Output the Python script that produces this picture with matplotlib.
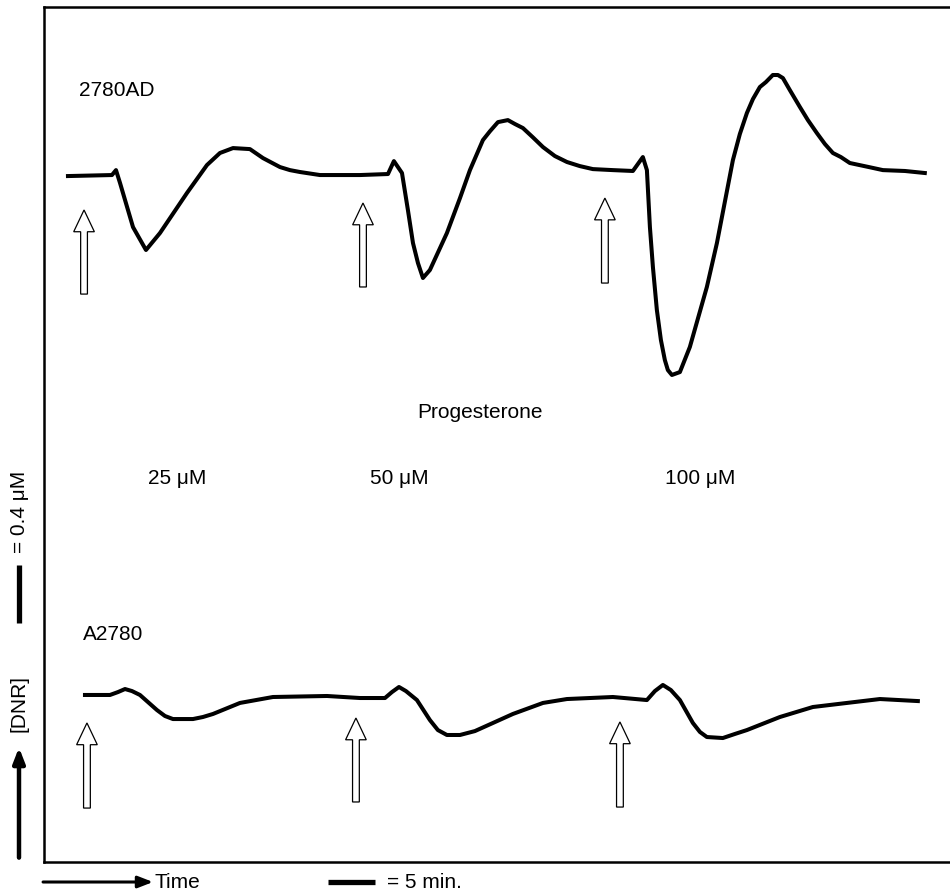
import numpy as np
import matplotlib.pyplot as plt
import matplotlib.patches as patches

plt.rcParams['font.family'] = ['Liberation Sans', 'DejaVu Sans']

# 2780AD trace: time (min), [DNR] signal (uM, arbitrary offset)
t_ad = [2.55, 7.23, 7.66, 8.09, 9.47, 10.85, 12.34, 15.21, 17.34, 18.72, 20.11,
        21.91, 23.30, 25.11, 26.17, 27.23, 29.36, 33.62, 36.60, 37.23, 38.09, 38.72,
        39.26, 39.79, 40.32, 41.06, 42.87, 44.26, 45.32, 46.70, 47.45, 48.30, 49.36,
        50.11, 50.96, 52.02, 53.09, 54.36, 55.64, 57.00, 58.40, 60.53, 62.66, 63.72,
        64.15, 64.47, 64.79, 65.21, 65.64, 66.06, 66.38, 66.81, 67.66, 68.72, 70.53,
        71.60, 73.30, 74.04, 74.79, 75.43, 76.17, 76.81, 77.55, 78.09, 78.62, 79.36,
        80.43, 81.28, 82.23, 83.09, 83.94, 84.79, 85.74, 87.77, 89.26, 91.60, 93.72]
c_ad = [4.731, 4.738, 4.772, 4.683, 4.379, 4.221, 4.338, 4.614, 4.807, 4.890, 4.924,
        4.917, 4.855, 4.793, 4.772, 4.759, 4.738, 4.738, 4.745, 4.834, 4.752, 4.497,
        4.269, 4.131, 4.028, 4.083, 4.338, 4.579, 4.772, 4.979, 5.040, 5.103, 5.117,
        5.090, 5.062, 4.998, 4.931, 4.869, 4.828, 4.800, 4.779, 4.772, 4.766, 4.862,
        4.772, 4.379, 4.103, 3.807, 3.600, 3.462, 3.393, 3.359, 3.379, 3.552, 3.966,
        4.269, 4.841, 5.021, 5.166, 5.262, 5.345, 5.379, 5.428, 5.428, 5.407, 5.324,
        5.207, 5.117, 5.028, 4.952, 4.890, 4.862, 4.821, 4.793, 4.772, 4.766, 4.752]

# A2780 trace
t_wt = [4.36, 7.02, 7.87, 8.62, 9.36, 10.21, 12.02, 12.87, 13.72, 15.85, 16.91,
        17.98, 20.85, 24.36, 30.11, 33.62, 36.28, 37.02, 37.77, 38.51, 39.68, 41.06,
        41.91, 42.87, 44.26, 45.85, 47.77, 49.89, 53.09, 55.64, 60.53, 64.15, 65.00,
        65.85, 66.70, 67.66, 69.04, 69.79, 70.53, 72.23, 73.51, 74.79, 78.30, 81.81,
        85.43, 88.94, 92.98]
c_wt = [1.152, 1.152, 1.172, 1.193, 1.179, 1.152, 1.048, 1.007, 0.986, 0.986, 1.000,
        1.021, 1.097, 1.138, 1.145, 1.131, 1.131, 1.172, 1.207, 1.179, 1.117, 0.979,
        0.910, 0.876, 0.876, 0.903, 0.959, 1.021, 1.097, 1.124, 1.138, 1.117, 1.179,
        1.221, 1.186, 1.117, 0.959, 0.897, 0.862, 0.855, 0.883, 0.910, 1.000, 1.069,
        1.097, 1.124, 1.110]

# progesterone additions (arrows): time, arrow base, arrow tip
add_t_ad = [4.26, 33.94, 59.68]
add_base_ad = [3.917, 3.966, 3.993]
add_tip_ad = [4.497, 4.545, 4.579]
add_t_wt = [4.57, 33.19, 61.28]
add_base_wt = [0.372, 0.414, 0.379]
add_tip_wt = [0.959, 0.993, 0.966]
doses = ['25 \u03bcM', '50 \u03bcM', '100 \u03bcM']
dose_t = [11.06, 34.68, 66.06]

fig = plt.figure(figsize=(9.5, 8.94), dpi=100)
ax = fig.add_axes([44 / 950, 32 / 894, 906 / 950, 855 / 894])
ax.set_xlim(0, 96.4)
ax.set_ylim(0, 5.897)
ax.set_xticks([])
ax.set_yticks([])
ax.spines['right'].set_visible(False)
for s in ['left', 'top', 'bottom']:
    ax.spines[s].set_linewidth(1.8)

ax.plot(t_ad, c_ad, color='k', lw=2.9, solid_joinstyle='round')
ax.plot(t_wt, c_wt, color='k', lw=2.9, solid_joinstyle='round')

for ts, bs, tips in [(add_t_ad, add_base_ad, add_tip_ad), (add_t_wt, add_base_wt, add_tip_wt)]:
    for t, b, tip in zip(ts, bs, tips):
        arr = patches.FancyArrow(t, b, 0, tip - b, width=0.72, head_width=2.2,
                                 head_length=0.15, length_includes_head=True,
                                 facecolor='white', edgecolor='k', lw=0.9)
        ax.add_patch(arr)

fs = 15
ax.text(3.72, 5.324, '2780AD', fontsize=fs, va='center', ha='left')
ax.text(4.15, 1.566, 'A2780', fontsize=fs, va='center', ha='left')
ax.text(46.4, 3.097, 'Progesterone', fontsize=fs, va='center', ha='center')
for d, t in zip(doses, dose_t):
    ax.text(t, 2.648, d, fontsize=fs, va='center', ha='left')

# time axis arrow and 5 min scale bar
ax.annotate('', xy=(11.6, -0.138), xytext=(-0.1, -0.138), xycoords='data',
            annotation_clip=False,
            arrowprops=dict(arrowstyle='-|>,head_length=0.9,head_width=0.35',
                            color='k', lw=2.2, shrinkA=0, shrinkB=0))
ax.text(11.8, -0.138, 'Time', fontsize=fs, va='center', ha='left', clip_on=False)
ax.plot([30.2, 35.2], [-0.138, -0.138], color='k', lw=3.8, clip_on=False,
        solid_capstyle='butt')
ax.text(36.5, -0.138, '= 5 min.', fontsize=fs, va='center', ha='left', clip_on=False)

# concentration arrow and 0.4 uM scale bar
ax.annotate('', xy=(-2.66, 0.79), xytext=(-2.66, 0.03), xycoords='data',
            annotation_clip=False,
            arrowprops=dict(arrowstyle='-|>,head_length=0.9,head_width=0.35',
                            color='k', lw=3.2, shrinkA=0, shrinkB=0))
ax.text(-2.66, 1.09, '[DNR]', fontsize=fs, va='center', ha='center',
        rotation=90, clip_on=False)
ax.plot([-2.66, -2.66], [1.648, 2.048], color='k', lw=3.8, clip_on=False,
        solid_capstyle='butt')
ax.text(-2.66, 2.414, '= 0.4 \u03bcM', fontsize=fs, va='center', ha='center',
        rotation=90, clip_on=False)

fig.savefig('out.png', dpi=100)
